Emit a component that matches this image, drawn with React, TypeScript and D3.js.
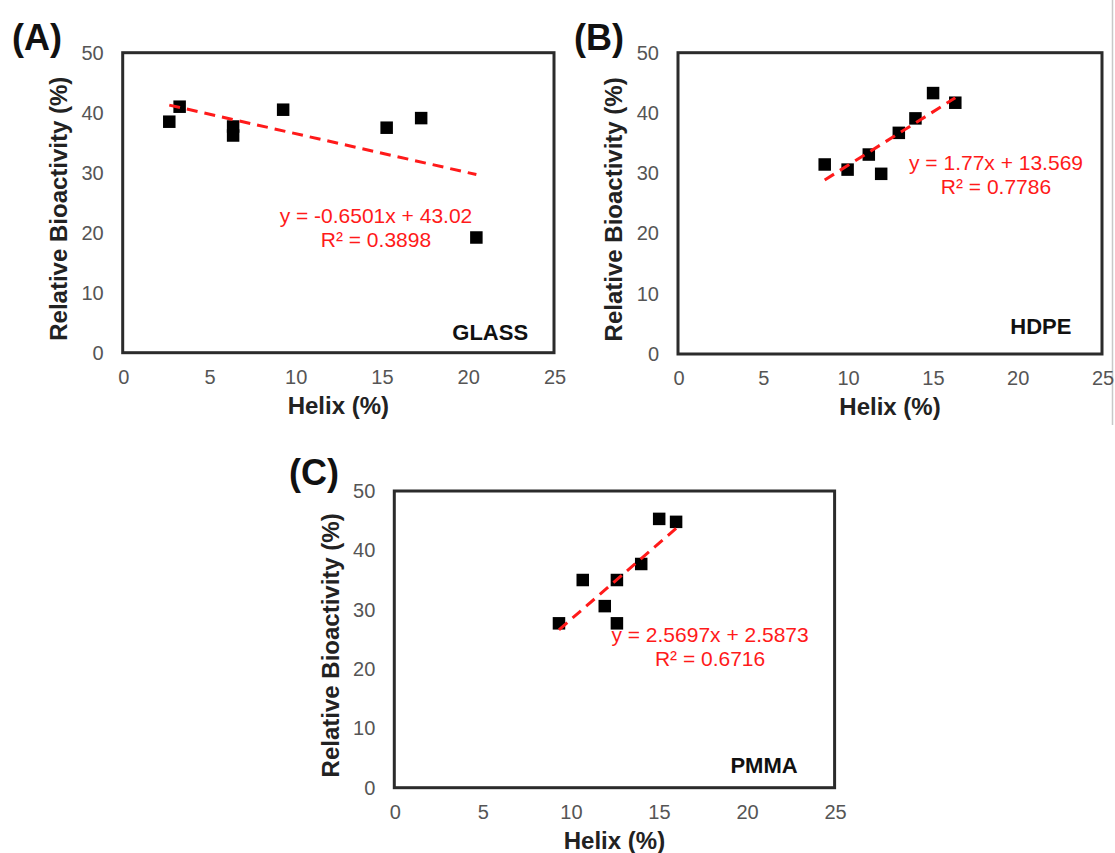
import React from "react";
import * as d3 from "d3";

// Helix content (%) vs relative bioactivity (%) on three surfaces
const helixGlass = [2.7, 3.3, 6.4, 6.4, 9.3, 15.3, 17.3, 20.5];
const bioGlass = [38.5, 41.0, 37.7, 36.2, 40.5, 37.5, 39.1, 19.2];

const helixHdpe = [8.65, 10.0, 11.25, 11.98, 13.02, 14.0, 15.04, 16.35];
const bioHdpe = [31.45, 30.6, 33.1, 29.9, 36.7, 39.1, 43.3, 41.7];

const helixPmma = [9.35, 10.7, 11.95, 12.64, 12.64, 14.02, 15.04, 16.0];
const bioPmma = [27.7, 35.0, 30.6, 35.0, 27.7, 37.7, 45.3, 44.8];

// Linear fits reported for each surface
const fitSlopes = [-0.6501, 1.77, 2.5697];
const fitIntercepts = [43.02, 13.569, 2.5873];
const fitR2 = ["0.3898", "0.7786", "0.6716"];

const surfaceNames = ["GLASS", "HDPE", "PMMA"];
const panelLetters = ["(A)", "(B)", "(C)"];

const xTicks = [0, 5, 10, 15, 20, 25];
const yTicks = [0, 10, 20, 30, 40, 50];

const xLabel = "Helix (%)";
const yLabel = "Relative Bioactivity (%)";

// Panel frames and annotation anchors (anchors in data units)
const layout = [
  { left: 122.7, right: 554, top: 52.7, bottom: 352.7, eq: [14.68, 21.67], tag: [23.5, 2.1], letter: [12, 50] },
  { left: 678, right: 1102, top: 52.7, bottom: 354, eq: [18.75, 30.5], tag: [23.2, 3.3], letter: [574, 50] },
  { left: 394.3, right: 834.6, top: 491, bottom: 787.7, eq: [17.93, 24.6], tag: [22.9, 2.5], letter: [289, 485] },
];

const FONT = "'Liberation Sans', Arial, Helvetica, sans-serif";
const RED = "#ff1a1a";

function Panel({ idx, xs, ys }: { idx: number; xs: number[]; ys: number[] }) {
  const L = layout[idx];
  const x = d3.scaleLinear().domain([0, 25]).range([L.left, L.right]);
  const y = d3.scaleLinear().domain([0, 50]).range([L.bottom, L.top]);
  const slope = fitSlopes[idx];
  const icpt = fitIntercepts[idx];
  const x0 = d3.min(xs) as number;
  const x1 = d3.max(xs) as number;
  const fitLine = d3.line<number>().x((v) => x(v)).y((v) => y(slope * v + icpt));
  const sq = 12.5;
  const midY = (L.top + L.bottom) / 2 + 6;
  const eqX = x(L.eq[0]);
  const eqY = y(L.eq[1]);
  return (
    <g>
      <text x={L.letter[0]} y={L.letter[1]} fontFamily={FONT} fontWeight="bold" fontSize={36} fill="#111">
        {panelLetters[idx]}
      </text>
      {/* y tick labels */}
      {yTicks.map((t) => (
        <text key={"y" + t} x={L.left - 19} y={y(t)} dy="0.35em" textAnchor="end" fontFamily={FONT} fontSize={20} fill="#555">
          {t}
        </text>
      ))}
      {/* x tick labels */}
      {xTicks.map((t) => (
        <text key={"x" + t} x={x(t) + 1} y={L.bottom + 31} textAnchor="middle" fontFamily={FONT} fontSize={20} fill="#555">
          {t}
        </text>
      ))}
      <text
        transform={`translate(${L.left - 64},${midY}) rotate(-90)`}
        dy="0.35em"
        textAnchor="middle"
        fontFamily={FONT}
        fontWeight="bold"
        fontSize={24}
        fill="#222"
      >
        {yLabel}
      </text>
      <text x={(L.left + L.right) / 2} y={L.bottom + 61} textAnchor="middle" fontFamily={FONT} fontWeight="bold" fontSize={24} fill="#222">
        {xLabel}
      </text>
      {/* data points */}
      {xs.map((v, i) => (
        <rect key={i} x={x(v) - sq / 2} y={y(ys[i]) - sq / 2} width={sq} height={sq} fill="#000" />
      ))}
      {/* linear trend */}
      <path d={fitLine([x0, x1]) || ""} fill="none" stroke={RED} strokeWidth={3} strokeDasharray="11,7" />
      <text x={eqX} y={eqY} textAnchor="middle" fontFamily={FONT} fontSize={21} fill={RED}>
        {`y = ${slope}x + ${icpt}`}
      </text>
      <text x={eqX} y={eqY + 24} textAnchor="middle" fontFamily={FONT} fontSize={21} fill={RED}>
        {`R² = ${fitR2[idx]}`}
      </text>
      <text x={x(L.tag[0])} y={y(L.tag[1])} textAnchor="end" fontFamily={FONT} fontWeight="bold" fontSize={22} fill="#111">
        {surfaceNames[idx]}
      </text>
      {/* plot frame */}
      <rect x={L.left} y={L.top} width={L.right - L.left} height={L.bottom - L.top} fill="none" stroke="#2b2b2b" strokeWidth={3} />
    </g>
  );
}

export default function App() {
  return (
    <svg
      width={1115}
      height={853}
      style={{ position: "absolute", left: 0, top: 0, background: "#fff" }}
      xmlns="http://www.w3.org/2000/svg"
    >
      <rect width={1115} height={853} fill="#fff" />
      <line x1={1112.5} x2={1112.5} y1={0} y2={425} stroke="#c8c8c8" strokeWidth={1.5} />
      <Panel idx={0} xs={helixGlass} ys={bioGlass} />
      <Panel idx={1} xs={helixHdpe} ys={bioHdpe} />
      <Panel idx={2} xs={helixPmma} ys={bioPmma} />
    </svg>
  );
}
